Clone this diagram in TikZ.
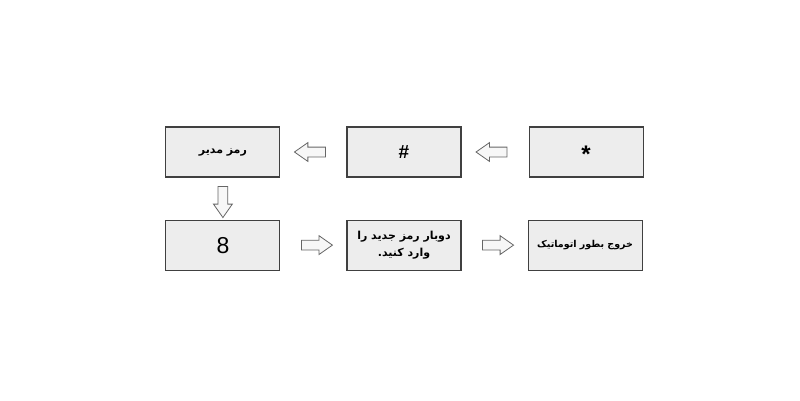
\documentclass[tikz,border=0pt]{standalone}
\usepackage{fontspec}
\setmainfont{Liberation Sans}
\newfontfamily\farsi[Script=Arabic]{DejaVu Sans}
\TeXXeTstate=1
\usepackage{tikz}
\usetikzlibrary{positioning,calc,shapes.arrows}

\begin{document}
\begin{tikzpicture}[x=1pt,y=-1pt,
every node/.style={font=\farsi\bfseries\fontsize{11}{17}\selectfont},
box/.style={draw=black!75,fill=black!7,line width=1.1pt,minimum width=114pt,minimum height=50pt,align=center,inner sep=0pt},
blockarrow/.style={single arrow,draw=black!60,fill=black!3,line width=0.8pt,minimum height=31pt,inner sep=4.5pt,single arrow head extend=4.5pt,single arrow tip angle=70,shape border rotate=#1}]
\useasboundingbox (0,0) rectangle (800,400);
% upper row
\node[box] (hash) at (404,152) {\rmfamily\bfseries\fontsize{19}{19}\selectfont \#};
\node[box,right=67pt of hash] (star) {\rmfamily\bfseries\fontsize{24}{24}\selectfont\raisebox{-10.5pt}[0pt][0pt]{*}};
\node[box,left=66pt of hash] (mgr) {\beginR رمز مدیر\endR};
% lower row
\node[box,below=42pt of mgr] (eight) {\rmfamily\mdseries\fontsize{23}{23}\selectfont 8};
\node[box,right=66pt of eight] (twice) {\beginR دوبار رمز جدید را\endR\\\beginR وارد کنید.\endR};
\node[box,right=66pt of twice] (exit) {\fontsize{9.5}{11}\selectfont\beginR خروج بطور اتوماتیک\endR};
% block arrows
\node[blockarrow=180] (a1) at ($(star.west)!0.5!(hash.east)$) {};
\node[blockarrow=180] (a2) at ($(hash.west)!0.5!(mgr.east)$) {};
\node[blockarrow=270] (a3) at ($(mgr.south)!0.5!(eight.north)$) {};
\node[blockarrow=0] (a4) at ($(eight.east)!0.5!(twice.west)$) {};
\node[blockarrow=0] (a5) at ($(twice.east)!0.5!(exit.west)$) {};
\end{tikzpicture}
\end{document}
